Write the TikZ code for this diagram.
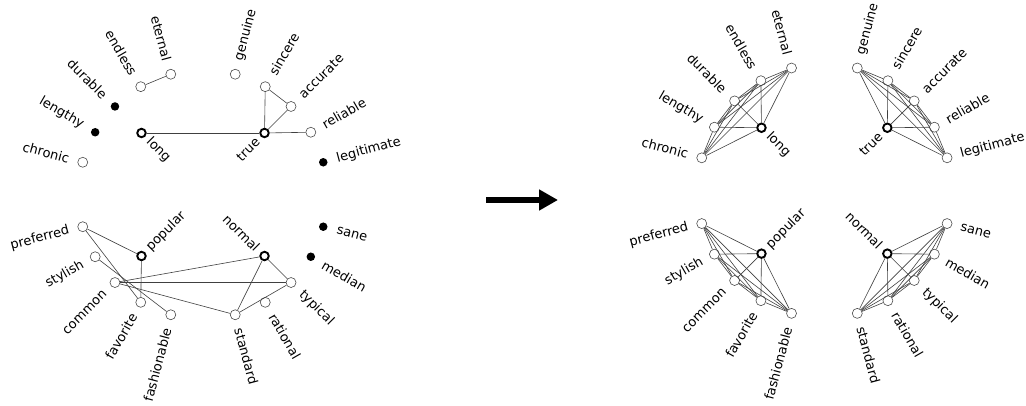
\documentclass[tikz,border=0pt]{standalone}
\usepackage{fontspec}
\setmainfont{DejaVu Sans}
\usetikzlibrary{arrows.meta}

\tikzset{
  hollow/.style={circle, draw=black!70, line width=0.6pt, inner sep=0pt, minimum size=10pt},
  blackdot/.style={circle, fill=black, inner sep=0pt, minimum size=8.5pt},
  hub/.style={circle, draw=black, line width=1.9pt, inner sep=0pt, minimum size=8.5pt},
  word/.style={font=\fontsize{13}{15}\selectfont, inner sep=2pt},
  hubword/.style={word, inner xsep=4.5pt},
  link/.style={draw=black!75, line width=0.6pt},
}

\begin{document}
\begin{tikzpicture}[x=1pt, y=1pt]

\useasboundingbox (0,0) rectangle (1026,406);

%% before
\begin{scope}[shift={(203,211.5)}]
% long group
\node[hollow] (chronic) at (165:124.5) {};
\node[word, rotate=-15, anchor=east] (chronic-w) at (165:136.5) {chronic};
\node[blackdot] (lengthy) at (150:124.5) {};
\node[word, rotate=-30, anchor=east] (lengthy-w) at (150:136.5) {lengthy};
\node[blackdot] (durable) at (135:124.5) {};
\node[word, rotate=-45, anchor=east] (durable-w) at (135:136.5) {durable};
\node[hollow] (endless) at (120:124.5) {};
\node[word, rotate=-60, anchor=east] (endless-w) at (120:136.5) {endless};
\node[hollow] (eternal) at (105:124.5) {};
\node[word, rotate=-75, anchor=east] (eternal-w) at (105:136.5) {eternal};
\node[hub] (long) at (135:87) {};
\node[hubword, rotate=-45, anchor=west] (long-w) at (long.-45) {long};

% true group
\node[hollow] (genuine) at (75:124.5) {};
\node[word, rotate=75, anchor=west] (genuine-w) at (75:136.5) {genuine};
\node[hollow] (sincere) at (60:124.5) {};
\node[word, rotate=60, anchor=west] (sincere-w) at (60:136.5) {sincere};
\node[hollow] (accurate) at (45:124.5) {};
\node[word, rotate=45, anchor=west] (accurate-w) at (45:136.5) {accurate};
\node[hollow] (reliable) at (30:124.5) {};
\node[word, rotate=30, anchor=west] (reliable-w) at (30:136.5) {reliable};
\node[blackdot] (legitimate) at (15:124.5) {};
\node[word, rotate=15, anchor=west] (legitimate-w) at (15:136.5) {legitimate};
\node[hub] (true) at (45:87) {};
\node[hubword, rotate=45, anchor=east] (true-w) at (true.-135) {true};

% popular group
\node[hollow] (preferred) at (-165:124.5) {};
\node[word, rotate=15, anchor=east] (preferred-w) at (-165:136.5) {preferred};
\node[hollow] (stylish) at (-150:124.5) {};
\node[word, rotate=30, anchor=east] (stylish-w) at (-150:136.5) {stylish};
\node[hollow] (common) at (-135:124.5) {};
\node[word, rotate=45, anchor=east] (common-w) at (-135:136.5) {common};
\node[hollow] (favorite) at (-120:124.5) {};
\node[word, rotate=60, anchor=east] (favorite-w) at (-120:136.5) {favorite};
\node[hollow] (fashionable) at (-105:124.5) {};
\node[word, rotate=75, anchor=east] (fashionable-w) at (-105:136.5) {fashionable};
\node[hub] (popular) at (-135:87) {};
\node[hubword, rotate=45, anchor=west] (popular-w) at (popular.45) {popular};

% normal group
\node[blackdot] (sane) at (-15:124.5) {};
\node[word, rotate=-15, anchor=west] (sane-w) at (-15:136.5) {sane};
\node[blackdot] (median) at (-30:124.5) {};
\node[word, rotate=-30, anchor=west] (median-w) at (-30:136.5) {median};
\node[hollow] (typical) at (-45:124.5) {};
\node[word, rotate=-45, anchor=west] (typical-w) at (-45:136.5) {typical};
\node[hollow] (rational) at (-60:124.5) {};
\node[word, rotate=-60, anchor=west] (rational-w) at (-60:136.5) {rational};
\node[hollow] (standard) at (-75:124.5) {};
\node[word, rotate=-75, anchor=west] (standard-w) at (-75:136.5) {standard};
\node[hub] (normal) at (-45:87) {};
\node[hubword, rotate=-45, anchor=east] (normal-w) at (normal.135) {normal};

% links
\draw[link] (endless) edge (eternal);
\draw[link] (long) edge (true);
\draw[link] (true) edge (reliable) edge (sincere) edge (accurate);
\draw[link] (sincere) edge (accurate);
\draw[link] (preferred) edge (popular) edge (favorite);
\draw[link] (popular) edge (favorite);
\draw[link] (stylish) edge (fashionable);
\draw[link] (common) edge (normal) edge (typical) edge (standard);
\draw[link] (normal) edge (standard) edge (typical);
\draw[link] (typical) edge (standard);
\end{scope}

%% arrow
\coordinate (arrow-tail) at (486,206);
\coordinate (arrow-head) at (558,206);
\draw[line width=6.5pt, -{Triangle[length=19pt,width=20pt]}] (arrow-tail) -- (arrow-head);

%% after
\begin{scope}[shift={(824.4,215.3)}]
% long group
\node[hollow] (chronic2) at (165:127) {};
\node[word, rotate=-15, anchor=east] (chronic2-w) at (165:139) {chronic};
\node[hollow] (lengthy2) at (150:127) {};
\node[word, rotate=-30, anchor=east] (lengthy2-w) at (150:139) {lengthy};
\node[hollow] (durable2) at (135:127) {};
\node[word, rotate=-45, anchor=east] (durable2-w) at (135:139) {durable};
\node[hollow] (endless2) at (120:127) {};
\node[word, rotate=-60, anchor=east] (endless2-w) at (120:139) {endless};
\node[hollow] (eternal2) at (105:127) {};
\node[word, rotate=-75, anchor=east] (eternal2-w) at (105:139) {eternal};
\node[hub] (long2) at (135:89) {};
\node[hubword, rotate=-45, anchor=west] (long2-w) at (long2.-45) {long};

% true group
\node[hollow] (genuine2) at (75:127) {};
\node[word, rotate=75, anchor=west] (genuine2-w) at (75:139) {genuine};
\node[hollow] (sincere2) at (60:127) {};
\node[word, rotate=60, anchor=west] (sincere2-w) at (60:139) {sincere};
\node[hollow] (accurate2) at (45:127) {};
\node[word, rotate=45, anchor=west] (accurate2-w) at (45:139) {accurate};
\node[hollow] (reliable2) at (30:127) {};
\node[word, rotate=30, anchor=west] (reliable2-w) at (30:139) {reliable};
\node[hollow] (legitimate2) at (15:127) {};
\node[word, rotate=15, anchor=west] (legitimate2-w) at (15:139) {legitimate};
\node[hub] (true2) at (45:89) {};
\node[hubword, rotate=45, anchor=east] (true2-w) at (true2.-135) {true};

% popular group
\node[hollow] (preferred2) at (-165:127) {};
\node[word, rotate=15, anchor=east] (preferred2-w) at (-165:139) {preferred};
\node[hollow] (stylish2) at (-150:127) {};
\node[word, rotate=30, anchor=east] (stylish2-w) at (-150:139) {stylish};
\node[hollow] (common2) at (-135:127) {};
\node[word, rotate=45, anchor=east] (common2-w) at (-135:139) {common};
\node[hollow] (favorite2) at (-120:127) {};
\node[word, rotate=60, anchor=east] (favorite2-w) at (-120:139) {favorite};
\node[hollow] (fashionable2) at (-105:127) {};
\node[word, rotate=75, anchor=east] (fashionable2-w) at (-105:139) {fashionable};
\node[hub] (popular2) at (-135:89) {};
\node[hubword, rotate=45, anchor=west] (popular2-w) at (popular2.45) {popular};

% normal group
\node[hollow] (sane2) at (-15:127) {};
\node[word, rotate=-15, anchor=west] (sane2-w) at (-15:139) {sane};
\node[hollow] (median2) at (-30:127) {};
\node[word, rotate=-30, anchor=west] (median2-w) at (-30:139) {median};
\node[hollow] (typical2) at (-45:127) {};
\node[word, rotate=-45, anchor=west] (typical2-w) at (-45:139) {typical};
\node[hollow] (rational2) at (-60:127) {};
\node[word, rotate=-60, anchor=west] (rational2-w) at (-60:139) {rational};
\node[hollow] (standard2) at (-75:127) {};
\node[word, rotate=-75, anchor=west] (standard2-w) at (-75:139) {standard};
\node[hub] (normal2) at (-45:89) {};
\node[hubword, rotate=-45, anchor=east] (normal2-w) at (normal2.135) {normal};

% links: every pair inside a group
\draw[link] (chronic2) edge (lengthy2) edge (durable2) edge (endless2) edge (eternal2) edge (long2);
\draw[link] (lengthy2) edge (durable2) edge (endless2) edge (eternal2) edge (long2);
\draw[link] (durable2) edge (endless2) edge (eternal2) edge (long2);
\draw[link] (endless2) edge (eternal2) edge (long2);
\draw[link] (eternal2) edge (long2);

\draw[link] (genuine2) edge (sincere2) edge (accurate2) edge (reliable2) edge (legitimate2) edge (true2);
\draw[link] (sincere2) edge (accurate2) edge (reliable2) edge (legitimate2) edge (true2);
\draw[link] (accurate2) edge (reliable2) edge (legitimate2) edge (true2);
\draw[link] (reliable2) edge (legitimate2) edge (true2);
\draw[link] (legitimate2) edge (true2);

\draw[link] (preferred2) edge (stylish2) edge (common2) edge (favorite2) edge (fashionable2) edge (popular2);
\draw[link] (stylish2) edge (common2) edge (favorite2) edge (fashionable2) edge (popular2);
\draw[link] (common2) edge (favorite2) edge (fashionable2) edge (popular2);
\draw[link] (favorite2) edge (fashionable2) edge (popular2);
\draw[link] (fashionable2) edge (popular2);

\draw[link] (sane2) edge (median2) edge (typical2) edge (rational2) edge (standard2) edge (normal2);
\draw[link] (median2) edge (typical2) edge (rational2) edge (standard2) edge (normal2);
\draw[link] (typical2) edge (rational2) edge (standard2) edge (normal2);
\draw[link] (rational2) edge (standard2) edge (normal2);
\draw[link] (standard2) edge (normal2);
\end{scope}

\end{tikzpicture}
\end{document}
